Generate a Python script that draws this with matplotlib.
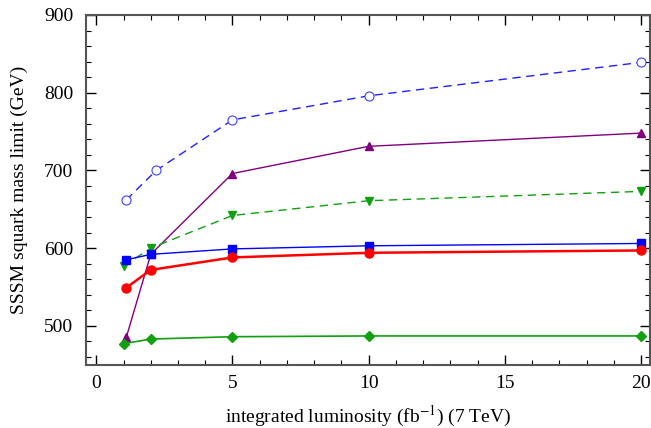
import matplotlib.pyplot as plt
import numpy as np

plt.rcParams['font.family'] = ['Liberation Serif', 'DejaVu Serif']
plt.rcParams['mathtext.fontset'] = 'stix'

# Dados (luminosidade em fb^-1, limite em GeV)
x_open = [1.1, 2.2, 5, 10, 20]
y_open = [662, 700, 765, 796, 839]

x_tri = [1.1, 2, 5, 10, 20]
y_tri = [485, 592, 696, 731, 748]

x_dtri = [1, 2, 5, 10, 20]
y_dtri = [577, 600, 642, 661, 673]

x_sq = [1.1, 2, 5, 10, 20]
y_sq = [585, 592, 599, 603, 606]

x_circ = [1.1, 2, 5, 10, 20]
y_circ = [549, 572, 588, 594, 597]

x_dia = [1, 2, 5, 10, 20]
y_dia = [477, 483, 486, 487, 487]

fig = plt.figure(figsize=(6.51, 4.28), dpi=100)
ax = fig.add_axes([0.132, 0.147, 0.866, 0.818])

ax.plot(x_open, y_open, '--', color='#2020ff', lw=1, marker='o', ms=6.5,
        mfc='white', mec='#4040ff', mew=0.8, dashes=(6, 4))
ax.plot(x_tri, y_tri, '-', color='purple', lw=1, marker='^', ms=6)
ax.plot(x_dtri, y_dtri, '--', color='#10a010', lw=1, marker='v', ms=6, dashes=(6, 4))
ax.plot(x_sq, y_sq, '-', color='blue', lw=1, marker='s', ms=5.5)
ax.plot(x_circ, y_circ, '-', color='red', lw=1.8, marker='o', ms=6.5)
ax.plot(x_dia, y_dia, '-', color='#10a010', lw=1.2, marker='D', ms=5.5)

ax.set_xlim(-0.38, 20.32)
ax.set_ylim(449.5, 900)
ax.set_xticks([0, 5, 10, 15, 20])
ax.set_yticks([500, 600, 700, 800, 900])
ax.set_xticks(np.arange(0, 21, 1), minor=True)
ax.set_yticks(np.arange(460, 901, 20), minor=True)
ax.tick_params(which='both', direction='in', top=True, right=True, labelsize=14)
ax.tick_params(which='major', length=7, width=1)
ax.tick_params(which='minor', length=3.5, width=0.8)
ax.tick_params(axis='x', pad=7)
ax.tick_params(axis='y', pad=9)
for s in ax.spines.values():
    s.set_linewidth(1.5)
    s.set_color('#555555')

ax.set_xlabel("integrated luminosity (fb$^{-1}$) (7 TeV)", fontsize=14, labelpad=8.5)
ax.set_ylabel("SSSM squark mass limit (GeV)", fontsize=14, labelpad=12)

plt.savefig("out.png", dpi=100)
